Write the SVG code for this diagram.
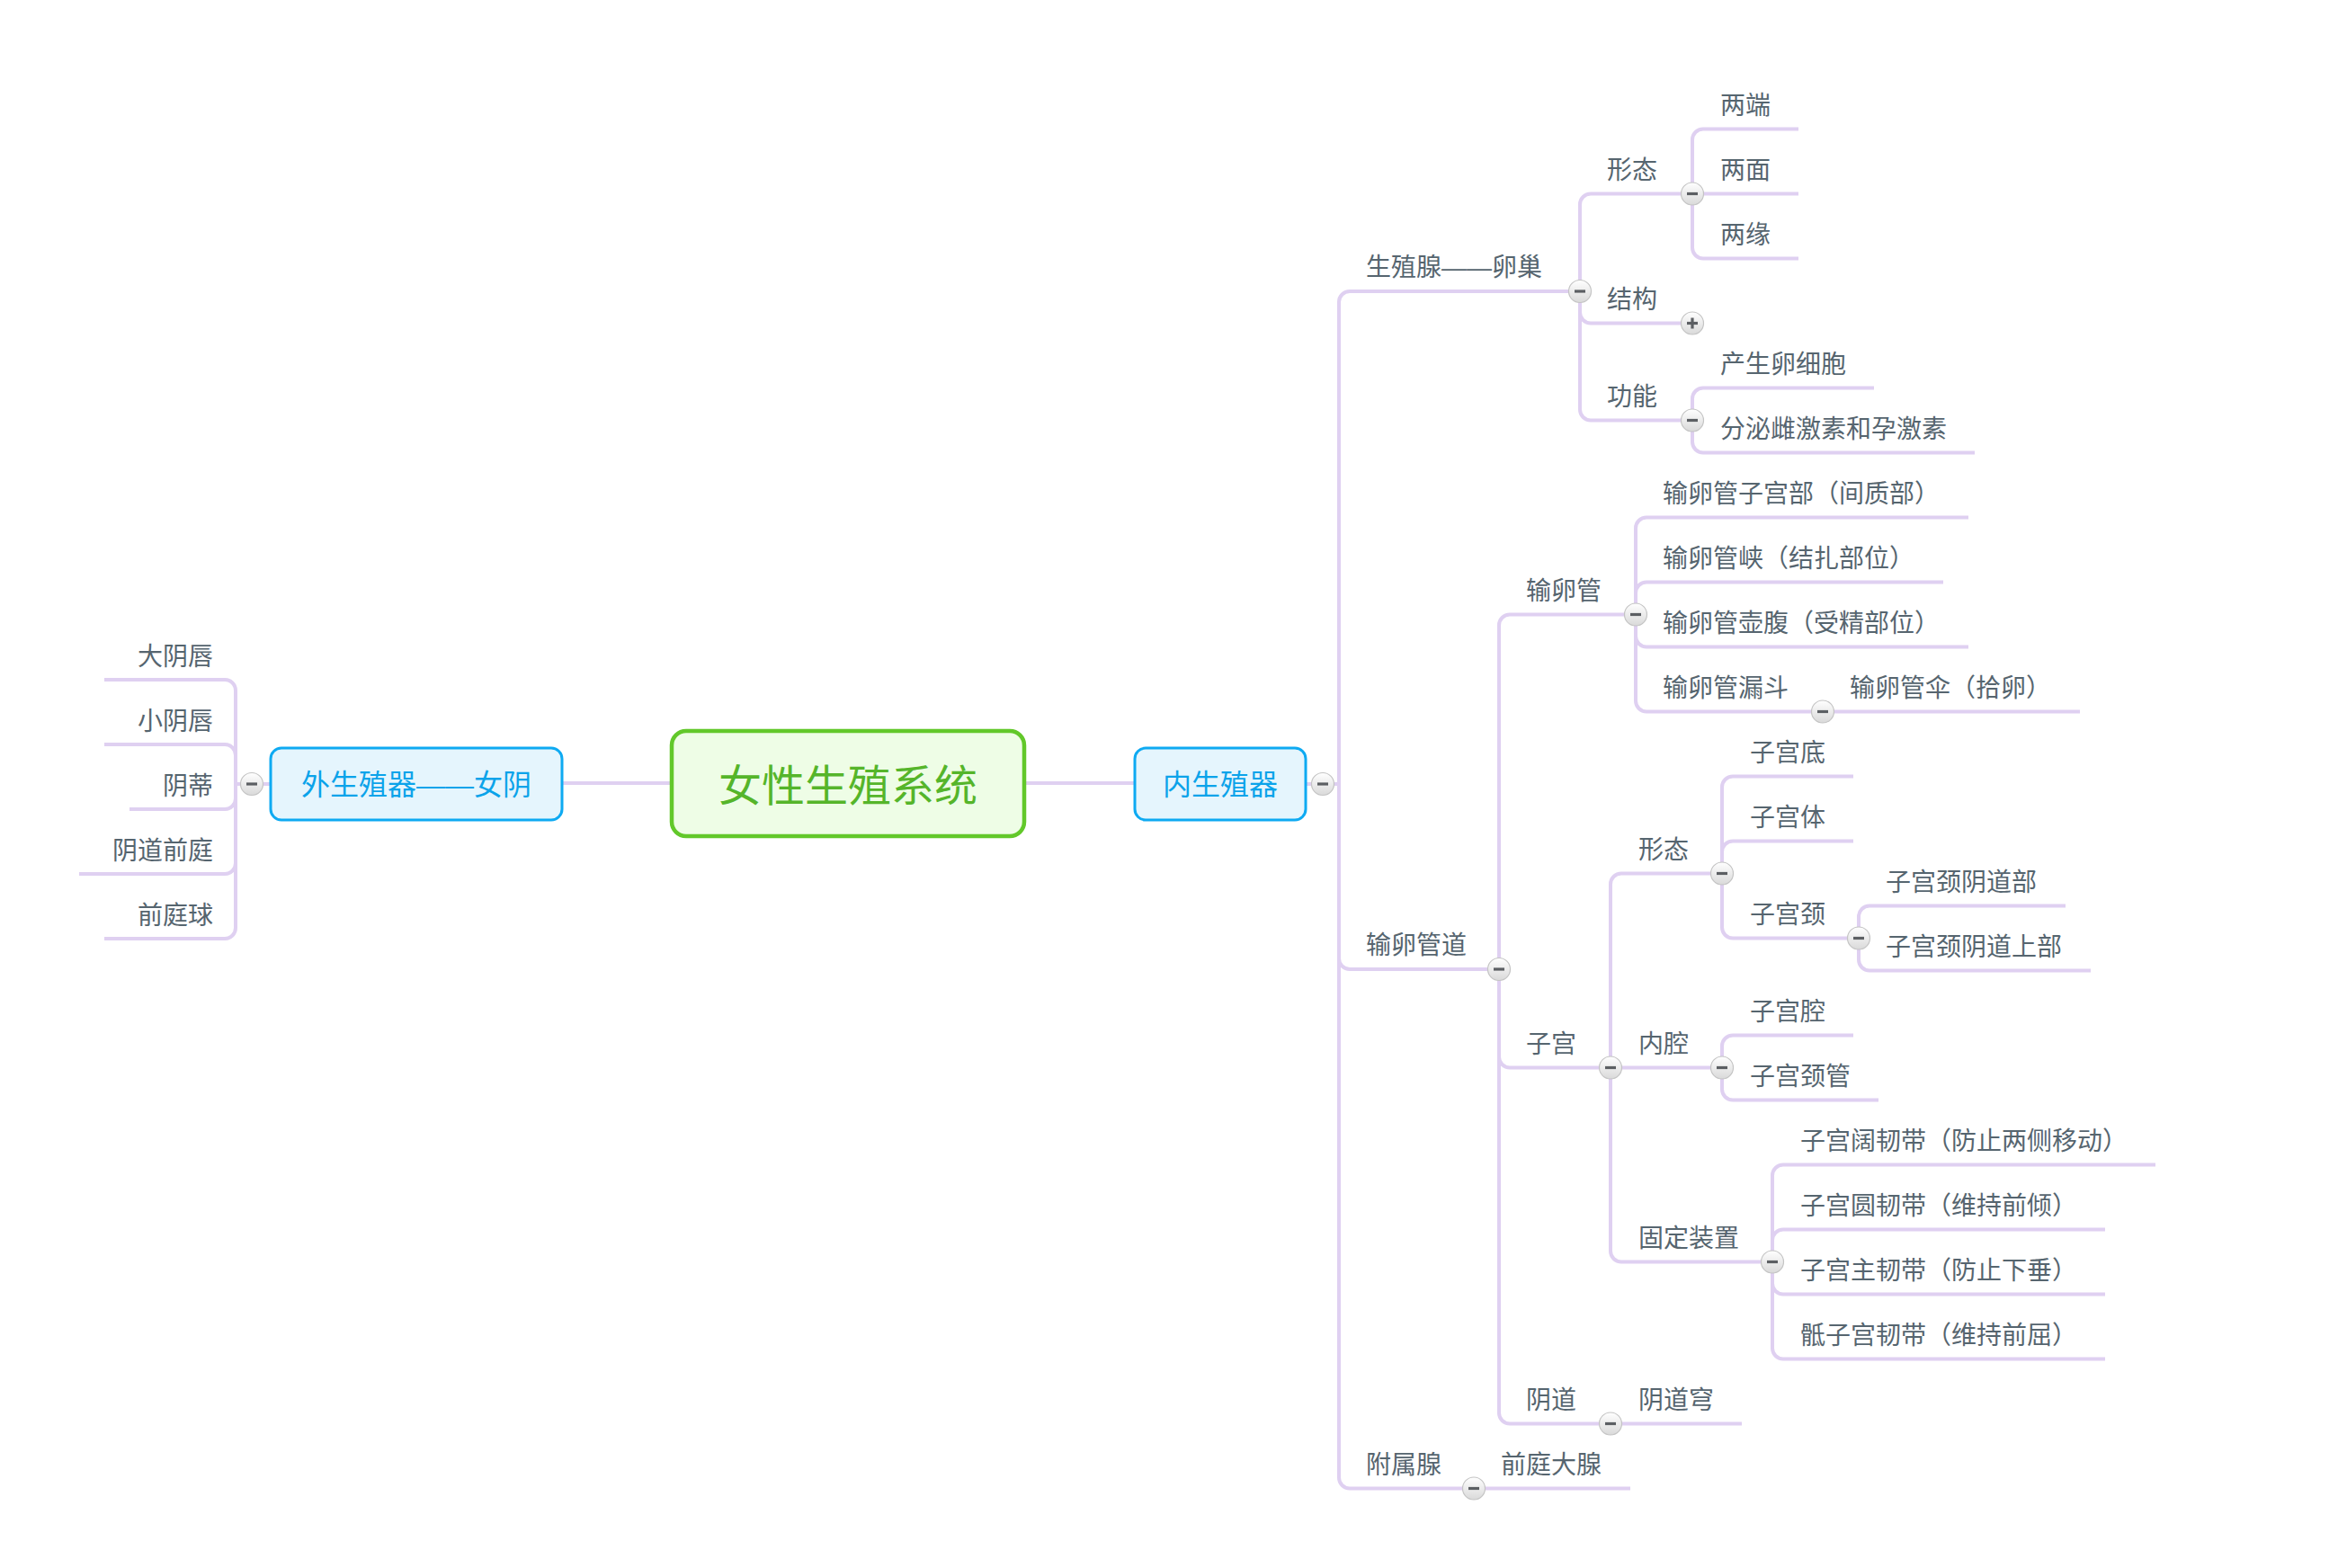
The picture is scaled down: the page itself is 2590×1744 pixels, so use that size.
<svg xmlns="http://www.w3.org/2000/svg" width="2590" height="1744" viewBox="0 0 2590 1744">
<defs>
<style>
.c{fill:none;stroke:#dfd0f1;stroke-width:4;stroke-linecap:butt}
.t{font-family:"Noto Sans CJK SC","Noto Sans",sans-serif;font-size:28px;fill:#56656f}
.tl{font-family:"Noto Sans CJK SC","Noto Sans",sans-serif;font-size:28px;fill:#56656f;text-anchor:end}
.bt{font-family:"Noto Sans CJK SC","Noto Sans",sans-serif;font-size:32px;fill:#0ba3ea;text-anchor:middle}
.box{fill:#e5f5fd;stroke:#0eaaf2;stroke-width:3}
.d{font-family:"Liberation Sans",sans-serif}
</style>
<linearGradient id="g" x1="0" y1="0" x2="0" y2="1">
<stop offset="0" stop-color="#ffffff"/>
<stop offset="1" stop-color="#d9d9d9"/>
</linearGradient>
<g id="minus"><circle r="12.5" fill="url(#g)" stroke="#c4c4c4" stroke-width="1.2"/><rect x="-6" y="-1.6" width="12" height="3.2" fill="#5c5f63"/></g>
<g id="plus"><circle r="12.5" fill="url(#g)" stroke="#c4c4c4" stroke-width="1.2"/><rect x="-6" y="-1.6" width="12" height="3.2" fill="#5c5f63"/><rect x="-1.6" y="-6" width="3.2" height="12" fill="#5c5f63"/></g>
</defs>
<rect width="2590" height="1744" fill="#ffffff"/>
<g id="connectors">
<path class="c" d="M626 871H746M1140 871H1261"/>
<path class="c" d="M300 872H262"/>
<path class="c" d="M262 872V768A12 12 0 0 0 250 756H116"/>
<path class="c" d="M262 872V840A12 12 0 0 0 250 828H116"/>
<path class="c" d="M262 872V888A12 12 0 0 1 250 900H144"/>
<path class="c" d="M262 872V960A12 12 0 0 1 250 972H88"/>
<path class="c" d="M262 872V1032A12 12 0 0 1 250 1044H116"/>
<path class="c" d="M1453 872H1489"/>
<path class="c" d="M1489 872V336A12 12 0 0 1 1501 324H1757"/>
<path class="c" d="M1489 872V1066A12 12 0 0 0 1501 1078H1667"/>
<path class="c" d="M1489 872V1643.5A12 12 0 0 0 1501 1655.5H1813"/>
<path class="c" d="M1757 324V227.5A12 12 0 0 1 1769 215.5H1882"/>
<path class="c" d="M1757 324V347.5A12 12 0 0 0 1769 359.5H1882"/>
<path class="c" d="M1757 324V455.5A12 12 0 0 0 1769 467.5H1882"/>
<path class="c" d="M1882 215.5V155.5A12 12 0 0 1 1894 143.5H2000"/>
<path class="c" d="M1882 215.5H2000"/>
<path class="c" d="M1882 215.5V275.5A12 12 0 0 0 1894 287.5H2000"/>
<path class="c" d="M1882 467.5V443.5A12 12 0 0 1 1894 431.5H2084"/>
<path class="c" d="M1882 467.5V491.5A12 12 0 0 0 1894 503.5H2196"/>
<path class="c" d="M1667 1078V695.5A12 12 0 0 1 1679 683.5H1819"/>
<path class="c" d="M1667 1078V1175.5A12 12 0 0 0 1679 1187.5H1791"/>
<path class="c" d="M1667 1078V1571.5A12 12 0 0 0 1679 1583.5H1937"/>
<path class="c" d="M1819 683.5V587.5A12 12 0 0 1 1831 575.5H2189"/>
<path class="c" d="M1819 683.5V659.5A12 12 0 0 1 1831 647.5H2161"/>
<path class="c" d="M1819 683.5V707.5A12 12 0 0 0 1831 719.5H2189"/>
<path class="c" d="M1819 683.5V779.5A12 12 0 0 0 1831 791.5H2313"/>
<path class="c" d="M1791 1187.5V983.5A12 12 0 0 1 1803 971.5H1915"/>
<path class="c" d="M1791 1187.5H1915"/>
<path class="c" d="M1791 1187.5V1391.5A12 12 0 0 0 1803 1403.5H1971"/>
<path class="c" d="M1915 971.5V875.5A12 12 0 0 1 1927 863.5H2061"/>
<path class="c" d="M1915 971.5V947.5A12 12 0 0 1 1927 935.5H2061"/>
<path class="c" d="M1915 971.5V1031.5A12 12 0 0 0 1927 1043.5H2067"/>
<path class="c" d="M2067 1043.5V1019.5A12 12 0 0 1 2079 1007.5H2297"/>
<path class="c" d="M2067 1043.5V1067.5A12 12 0 0 0 2079 1079.5H2325"/>
<path class="c" d="M1915 1187.5V1163.5A12 12 0 0 1 1927 1151.5H2061"/>
<path class="c" d="M1915 1187.5V1211.5A12 12 0 0 0 1927 1223.5H2089"/>
<path class="c" d="M1971 1403.5V1307.5A12 12 0 0 1 1983 1295.5H2397"/>
<path class="c" d="M1971 1403.5V1379.5A12 12 0 0 1 1983 1367.5H2341"/>
<path class="c" d="M1971 1403.5V1427.5A12 12 0 0 0 1983 1439.5H2341"/>
<path class="c" d="M1971 1403.5V1499.5A12 12 0 0 0 1983 1511.5H2341"/>
</g>
<g id="root">
<rect x="747" y="813" width="392" height="117" rx="16" fill="#eefde6" stroke="#62c82a" stroke-width="4.5"/>
<text x="943" y="891" font-family="Noto Sans CJK SC, sans-serif" font-size="48" fill="#55b52a" text-anchor="middle">女性生殖系统</text>
</g>
<g id="n-waisheng">
<rect class="box" x="301" y="832" width="324" height="80" rx="12"/>
<text class="bt" x="463" y="884">外生殖器<tspan class="d">——</tspan>女阴</text>
<use href="#minus" x="280" y="872"/>
</g>
<g id="n-dayinchun"><text class="tl" x="237" y="740">大阴唇</text></g>
<g id="n-xiaoyinchun"><text class="tl" x="237" y="812">小阴唇</text></g>
<g id="n-yindi"><text class="tl" x="237" y="884">阴蒂</text></g>
<g id="n-yindaoqianting"><text class="tl" x="237" y="956">阴道前庭</text></g>
<g id="n-qiantingqiu"><text class="tl" x="237" y="1028">前庭球</text></g>
<g id="n-neisheng">
<rect class="box" x="1262" y="832" width="190" height="80" rx="12"/>
<text class="bt" x="1357" y="884">内生殖器</text>
<use href="#minus" x="1471" y="872"/>
</g>
<g id="n-luanchao"><text class="t" x="1519" y="307">生殖腺<tspan class="d">——</tspan>卵巢</text><use href="#minus" x="1757" y="324"/></g>
<g id="n-xingtai1"><text class="t" x="1787" y="198.5">形态</text><use href="#minus" x="1882" y="215.5"/></g>
<g id="n-liangduan"><text class="t" x="1913" y="126.5">两端</text></g>
<g id="n-liangmian"><text class="t" x="1913" y="198.5">两面</text></g>
<g id="n-liangyuan"><text class="t" x="1913" y="270.5">两缘</text></g>
<g id="n-jiegou"><text class="t" x="1787" y="342.5">结构</text><use href="#plus" x="1882" y="359.5"/></g>
<g id="n-gongneng"><text class="t" x="1787" y="450.5">功能</text><use href="#minus" x="1882" y="467.5"/></g>
<g id="n-chansheng"><text class="t" x="1913" y="414.5">产生卵细胞</text></g>
<g id="n-fenmi"><text class="t" x="1913" y="486.5">分泌雌激素和孕激素</text></g>
<g id="n-shuluanguandao"><text class="t" x="1519" y="1061">输卵管道</text><use href="#minus" x="1667" y="1078"/></g>
<g id="n-shuluanguan"><text class="t" x="1697" y="666.5">输卵管</text><use href="#minus" x="1819" y="683.5"/></g>
<g id="n-zigongbu"><text class="t" x="1849" y="558.5">输卵管子宫部（间质部）</text></g>
<g id="n-xia"><text class="t" x="1849" y="630.5">输卵管峡（结扎部位）</text></g>
<g id="n-hufu"><text class="t" x="1849" y="702.5">输卵管壶腹（受精部位）</text></g>
<g id="n-loudou"><text class="t" x="1849" y="774.5">输卵管漏斗</text><use href="#minus" x="2027" y="791.5"/></g>
<g id="n-san"><text class="t" x="2057" y="774.5">输卵管伞（拾卵）</text></g>
<g id="n-zigong"><text class="t" x="1697" y="1170.5">子宫</text><use href="#minus" x="1791" y="1187.5"/></g>
<g id="n-xingtai2"><text class="t" x="1822" y="954.5">形态</text><use href="#minus" x="1915" y="971.5"/></g>
<g id="n-zigongdi"><text class="t" x="1946" y="846.5">子宫底</text></g>
<g id="n-zigongti"><text class="t" x="1946" y="918.5">子宫体</text></g>
<g id="n-zigongjing"><text class="t" x="1946" y="1026.5">子宫颈</text><use href="#minus" x="2067" y="1043.5"/></g>
<g id="n-yindaobu"><text class="t" x="2097" y="990.5">子宫颈阴道部</text></g>
<g id="n-yindaoshangbu"><text class="t" x="2097" y="1062.5">子宫颈阴道上部</text></g>
<g id="n-neiqiang"><text class="t" x="1822" y="1170.5">内腔</text><use href="#minus" x="1915" y="1187.5"/></g>
<g id="n-zigongqiang"><text class="t" x="1946" y="1134.5">子宫腔</text></g>
<g id="n-zigongjingguan"><text class="t" x="1946" y="1206.5">子宫颈管</text></g>
<g id="n-guding"><text class="t" x="1822" y="1386.5">固定装置</text><use href="#minus" x="1971" y="1403.5"/></g>
<g id="n-kuo"><text class="t" x="2002" y="1278.5">子宫阔韧带（防止两侧移动）</text></g>
<g id="n-yuan"><text class="t" x="2002" y="1350.5">子宫圆韧带（维持前倾）</text></g>
<g id="n-zhu"><text class="t" x="2002" y="1422.5">子宫主韧带（防止下垂）</text></g>
<g id="n-di"><text class="t" x="2002" y="1494.5">骶子宫韧带（维持前屈）</text></g>
<g id="n-yindao"><text class="t" x="1697" y="1566.5">阴道</text><use href="#minus" x="1791" y="1583.5"/></g>
<g id="n-yindaoqiong"><text class="t" x="1822" y="1566.5">阴道穹</text></g>
<g id="n-fushuxian"><text class="t" x="1519" y="1638.5">附属腺</text><use href="#minus" x="1639" y="1655.5"/></g>
<g id="n-qiantingdaxian"><text class="t" x="1669" y="1638.5">前庭大腺</text></g>
</svg>
